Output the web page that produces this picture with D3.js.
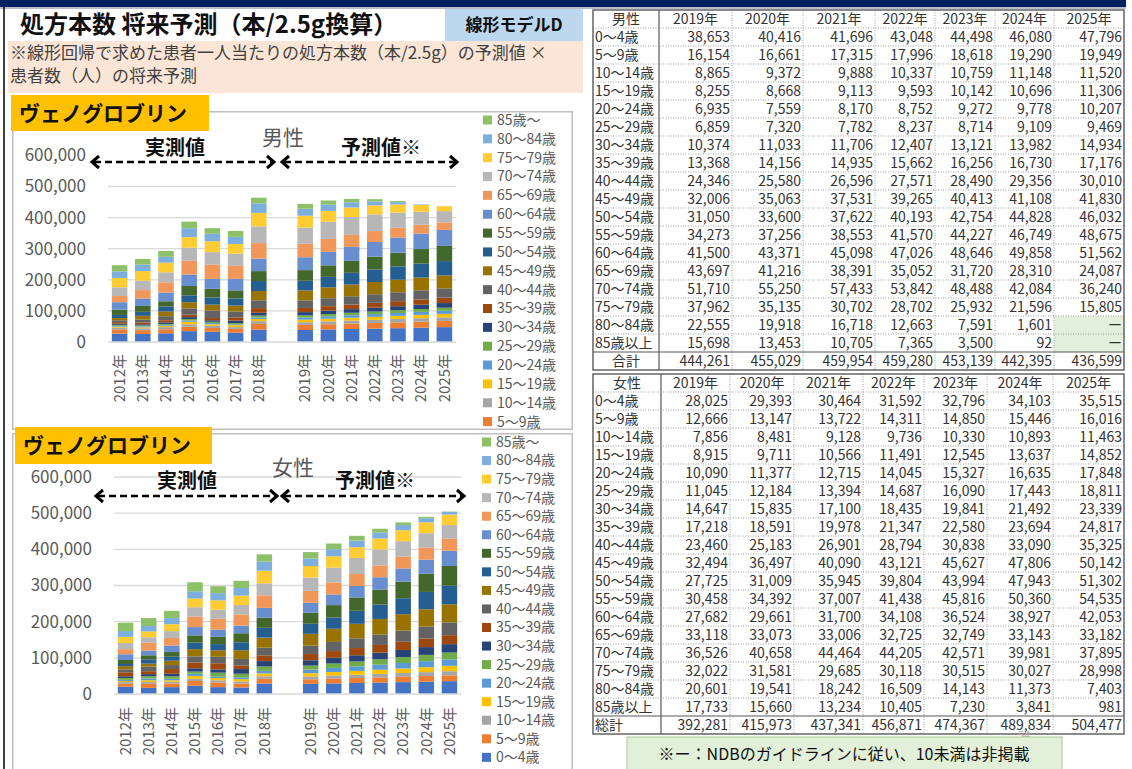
<!DOCTYPE html>
<html lang="ja">
<head>
<meta charset="utf-8">
<title>処方本数 将来予測（本/2.5g換算）</title>
<script src="https://d3js.org/d3.v7.min.js"></script>
<style>
  body { margin: 0; background: #fff; }
  svg { font-family: "Noto Sans CJK JP", "Noto Sans", sans-serif; }
</style>
</head>
<body>
<svg id="chart" width="1132" height="769"></svg>
<script>

// ---- data ----
var ageGroups = ["0〜4歳","5〜9歳","10〜14歳","15〜19歳","20〜24歳","25〜29歳","30〜34歳","35〜39歳","40〜44歳",
  "45〜49歳","50〜54歳","55〜59歳","60〜64歳","65〜69歳","70〜74歳","75〜79歳","80〜84歳","85歳〜"];
var tableLabels = ["0〜4歳","5〜9歳","10〜14歳","15〜19歳","20〜24歳","25〜29歳","30〜34歳","35〜39歳","40〜44歳",
  "45〜49歳","50〜54歳","55〜59歳","60〜64歳","65〜69歳","70〜74歳","75〜79歳","80〜84歳","85歳以上"];
var ageColors = ["#4472C4","#ED7D31","#A5A5A5","#FFC000","#5B9BD5","#70AD47","#264478","#9E480E","#636363",
  "#997300","#255E91","#43682B","#698ED0","#F1975A","#B7B7B7","#FFCD33","#7CAFDD","#8CC168"];

var actualYears = ["2012年","2013年","2014年","2015年","2016年","2017年","2018年"];
var forecastYears = ["2019年","2020年","2021年","2022年","2023年","2024年","2025年"];

var maleActual = [
  [27000,13000,6000,3000,3000,3000,4000,5000,6000,7000,10000,17000,24000,20000,28000,30000,21000,20000],
  [26000,12000,6000,3000,3000,3000,4000,6000,9000,12000,13000,19000,24000,27000,30000,31000,21000,18000],
  [28000,13000,7000,4000,3000,3000,5000,7000,13000,15000,16000,17000,28000,33000,32000,31000,19000,19000],
  [35000,14000,8000,8000,4000,5000,6000,8000,20000,20000,22000,30000,37000,44000,42000,34000,29000,21000],
  [33000,12000,7000,5000,4000,4000,5000,7000,24000,19000,23000,28000,32000,46000,40000,35000,24000,18000],
  [30000,12000,6000,6000,3000,4000,8000,10000,19000,19000,23000,26000,37000,42000,39000,31000,23000,19000],
  [40000,18000,9000,7000,5000,6000,9000,15000,25000,30000,32000,32000,40000,50000,54000,43000,31000,18000]
];
var femaleActual = [
  [20000,8000,5000,3000,3000,5000,5000,11000,8000,9000,6000,11000,16000,14000,17000,17000,16000,23000],
  [17000,11000,5000,5000,5000,6000,6000,8000,13000,8000,12000,11000,13000,22000,15000,16000,15000,22000],
  [19000,10000,5000,4000,4000,7000,7000,13000,11000,12000,11000,13000,18000,21000,19000,19000,17000,20000],
  [23000,13000,6000,8000,6000,6000,9000,16000,17000,20000,18000,20000,23000,29000,26000,24000,20000,25000],
  [19000,13000,6000,6000,4000,11000,9000,17000,18000,18000,17000,20000,20000,30000,25000,26000,20000,19000],
  [18000,11000,6000,6000,5000,10000,13000,10000,18000,24000,22000,25000,21000,31000,26000,26000,21000,20000],
  [29000,13000,7000,8000,7000,12000,15000,16000,21000,28000,27000,28000,27000,35000,33000,35000,25000,20000]
];

// forecast tables, one row per age group, columns 2019..2025 (null = not published)
var maleForecast = [
  [38653,40416,41696,43048,44498,46080,47796],
  [16154,16661,17315,17996,18618,19290,19949],
  [8865,9372,9888,10337,10759,11148,11520],
  [8255,8668,9113,9593,10142,10696,11306],
  [6935,7559,8170,8752,9272,9778,10207],
  [6859,7320,7782,8237,8714,9109,9469],
  [10374,11033,11706,12407,13121,13982,14934],
  [13368,14156,14935,15662,16256,16730,17176],
  [24346,25580,26596,27571,28490,29356,30010],
  [32006,35063,37531,39265,40413,41108,41830],
  [31050,33600,37622,40193,42754,44828,46032],
  [34273,37256,38553,41570,44227,46749,48675],
  [41500,43371,45098,47026,48646,49858,51562],
  [43697,41216,38391,35052,31720,28310,24087],
  [51710,55250,57433,53842,48488,42084,36240],
  [37962,35135,30702,28702,25932,21596,15805],
  [22555,19918,16718,12663,7591,1601,null],
  [15698,13453,10705,7365,3500,92,null]
];
var maleTotals = [444261,455029,459954,459280,453139,442395,436599];

var femaleForecast = [
  [28025,29393,30464,31592,32796,34103,35515],
  [12666,13147,13722,14311,14850,15446,16016],
  [7856,8481,9128,9736,10330,10893,11463],
  [8915,9711,10566,11491,12545,13637,14852],
  [10090,11377,12715,14045,15327,16635,17848],
  [11045,12184,13394,14687,16090,17443,18811],
  [14647,15835,17100,18435,19841,21492,23339],
  [17218,18591,19978,21347,22580,23694,24817],
  [23460,25183,26901,28794,30838,33090,35325],
  [32494,36497,40090,43121,45627,47806,50142],
  [27725,31009,35945,39804,43994,47943,51302],
  [30458,34392,37007,41438,45816,50360,54535],
  [27682,29661,31700,34108,36524,38927,42053],
  [33118,33073,33006,32725,32749,33143,33182],
  [36526,40658,44464,44205,42571,39981,37895],
  [32022,31581,29685,30118,30515,30027,28998],
  [20601,19541,18242,16509,14143,11373,7403],
  [17733,15660,13234,10405,7230,3841,981]
];
var femaleTotals = [392281,415973,437341,456871,474367,489834,504477];

var yTicks = [0,100000,200000,300000,400000,500000,600000];

// ---- page ----
var svg = d3.select("#chart");
var fmt = d3.format(",");

// navy band and left border
svg.append("rect").attr("x",0).attr("y",7).attr("width",1126).attr("height",2).attr("fill","#b8bcc8");
svg.append("rect").attr("x",0).attr("y",0).attr("width",1126).attr("height",7).attr("fill","#002060");
svg.append("line").attr("x1",4).attr("x2",4).attr("y1",7).attr("y2",769)
  .attr("stroke","#000").attr("stroke-width",1.5);

// title
svg.append("text").attr("x",20).attr("y",33)
  .style("font-size","24px").style("font-weight","bold").attr("fill","#111")
  .text("処方本数 将来予測（本/2.5g換算）");

svg.append("rect").attr("x",445).attr("y",9).attr("width",138).attr("height",32).attr("fill","#BDD7EE");
svg.append("text").attr("x",514).attr("y",31).attr("text-anchor","middle")
  .style("font-size","17px").style("font-weight","bold").attr("fill","#111")
  .text("線形モデルD");

svg.append("rect").attr("x",8).attr("y",41).attr("width",575).attr("height",52).attr("fill","#FBE5D6");
svg.append("text").attr("x",10).attr("y",59).style("font-size","17px").attr("fill","#404040")
  .text("※線形回帰で求めた患者一人当たりの処方本数（本/2.5g）の予測値 ×");
svg.append("text").attr("x",10).attr("y",82).style("font-size","17px").attr("fill","#404040")
  .text("患者数（人）の将来予測");

// ---- charts ----
function drawArrow(g, xa, xb, y) {
  g.append("line").attr("x1",xa+3).attr("x2",xb-3).attr("y1",y).attr("y2",y)
    .attr("stroke","#000").attr("stroke-width",2.5).attr("stroke-dasharray","7,4");
  g.append("polyline").attr("points",[[xa+8,y-6],[xa+1,y],[xa+8,y+6]].join(" "))
    .attr("fill","none").attr("stroke","#000").attr("stroke-width",3);
  g.append("polyline").attr("points",[[xb-8,y-6],[xb-1,y],[xb-8,y+6]].join(" "))
    .attr("fill","none").attr("stroke","#000").attr("stroke-width",3);
}

function drawChart(o) {
  var clipId = "clip" + o.id;
  svg.append("clipPath").attr("id",clipId).append("rect")
    .attr("x",o.frame[0]).attr("y",o.frame[1]).attr("width",o.frame[2]).attr("height",o.frame[3]);
  var g = svg.append("g").attr("clip-path","url(#" + clipId + ")");

  g.append("rect").attr("x",o.frame[0]).attr("y",o.frame[1]).attr("width",o.frame[2]).attr("height",o.frame[3])
    .attr("fill","#fff").attr("stroke","#BFBFBF").attr("stroke-width",3);

  var cats = actualYears.concat([""]).concat(forecastYears);
  var x = d3.scaleBand().domain(cats).range(o.xRange).paddingInner(0.33).paddingOuter(0.165);
  var y = d3.scaleLinear().domain([0,600000]).range(o.yRange);

  // gridlines
  g.append("g").selectAll("line")
    .data(yTicks.filter(function(t){ return t > 0 && (t < 600000 || o.topGrid); }))
    .join("line")
    .attr("x1",o.xRange[0]).attr("x2",o.xRange[1])
    .attr("y1",function(d){ return y(d); }).attr("y2",function(d){ return y(d); })
    .attr("stroke","#D9D9D9").attr("stroke-width",1.3);

  // rows for stacking
  var rows = actualYears.map(function(yr,i){ return {year: yr, v: o.actual[i]}; });
  rows.push({year: "", v: ageGroups.map(function(){ return 0; })});
  forecastYears.forEach(function(yr,j){
    rows.push({year: yr, v: o.forecast.map(function(r){ return r[j] || 0; })});
  });

  var series = d3.stack().keys(d3.range(ageGroups.length))
    .value(function(d,k){ return d.v[k]; })(rows);

  g.append("g").selectAll("g").data(series).join("g")
    .attr("fill",function(d,i){ return ageColors[i]; })
    .selectAll("rect").data(function(d){ return d.filter(function(p){ return p.data.year !== ""; }); })
    .join("rect")
    .attr("x",function(d){ return x(d.data.year); })
    .attr("y",function(d){ return y(d[1]); })
    .attr("height",function(d){ return y(d[0]) - y(d[1]); })
    .attr("width",x.bandwidth());

  // axis line
  g.append("line").attr("x1",o.xRange[0]).attr("x2",o.xRange[1])
    .attr("y1",y(0)).attr("y2",y(0)).attr("stroke","#D9D9D9").attr("stroke-width",1.3);

  // y axis labels
  var ya = g.append("g").attr("transform","translate(" + o.xRange[0] + ",0)")
    .call(d3.axisLeft(y).tickValues(yTicks).tickFormat(fmt).tickSize(0).tickPadding(o.xRange[0] - o.yLabelX));
  ya.select(".domain").remove();
  ya.selectAll("text").style("font-size","17px").style("font-family","\"Noto Sans CJK JP\", sans-serif").attr("fill","#595959");

  // x axis labels, rotated
  var xa = g.append("g").attr("transform","translate(0," + y(0) + ")")
    .call(d3.axisBottom(x).tickValues(actualYears.concat(forecastYears)).tickSize(0));
  xa.select(".domain").remove();
  xa.selectAll("text")
    .attr("transform","rotate(-90)").attr("x",-o.xLabelPad).attr("y",0).attr("dy","0.35em")
    .style("text-anchor","end").style("font-size","15px")
    .style("font-family","\"Noto Sans CJK JP\", sans-serif").attr("fill","#595959");

  // chart title
  g.append("text").attr("x",o.titleX).attr("y",o.titleY).attr("text-anchor","middle")
    .style("font-size","21px").attr("fill","#595959").text(o.sex);

  // arrows and their captions
  drawArrow(g, o.arrow1[0], o.arrow1[1], o.arrowY);
  drawArrow(g, o.arrow2[0], o.arrow2[1], o.arrowY);
  g.append("text").attr("x",o.cap1X).attr("y",o.capY).attr("text-anchor","middle")
    .style("font-size","20px").style("font-weight","bold").attr("fill","#111").text("実測値");
  g.append("text").attr("x",o.cap2X).attr("y",o.capY).attr("text-anchor","middle")
    .style("font-size","20px").style("font-weight","bold").attr("fill","#111").text("予測値※");

  // legend, highest age group first; entries past the frame bottom are not shown
  var frameBottom = o.frame[1] + o.frame[3];
  var legItems = d3.range(ageGroups.length).reverse()
    .filter(function(d,i){ return o.legY + i*o.legStep + 6 < frameBottom; });
  var leg = g.append("g").selectAll("g").data(legItems).join("g")
    .attr("transform",function(d,i){ return "translate(" + o.legX + "," + (o.legY + i*o.legStep) + ")"; });
  leg.append("rect").attr("x",0).attr("y",-4.5).attr("width",9).attr("height",9)
    .attr("fill",function(d){ return ageColors[d]; });
  leg.append("text").attr("x",14).attr("y",0).attr("dy","0.35em")
    .style("font-size","14px").attr("fill","#595959")
    .text(function(d){ return ageGroups[d]; });

  // yellow drug label
  svg.append("rect").attr("x",o.tag[0]).attr("y",o.tag[1]).attr("width",o.tag[2]).attr("height",o.tag[3])
    .attr("fill","#FFC000");
  svg.append("text").attr("x",o.tag[0] + 8).attr("y",o.tag[1] + o.tag[3]/2).attr("dy","0.36em")
    .style("font-size","21px").style("font-weight","bold").attr("fill","#111")
    .text("ヴェノグロブリン");
}

drawChart({
  id: "m", sex: "男性", actual: maleActual, forecast: maleForecast,
  frame: [12,111,561,319], xRange: [108,456], yRange: [342,155.4], yLabelX: 86, xLabelPad: 12,
  topGrid: false, titleX: 283, titleY: 145,
  arrowY: 162, arrow1: [91,275], arrow2: [281,458], cap1X: 175, cap2X: 381, capY: 155,
  legX: 483, legY: 120, legStep: 18.85, tag: [11,95,198,36]
});

drawChart({
  id: "f", sex: "女性", actual: femaleActual, forecast: femaleForecast,
  frame: [12,433,561,340], xRange: [114,461], yRange: [694,477], yLabelX: 92, xLabelPad: 13,
  topGrid: true, titleX: 293, titleY: 475,
  arrowY: 496, arrow1: [95,278], arrow2: [281,465], cap1X: 187, cap2X: 375, capY: 488,
  legX: 482, legY: 442, legStep: 18.55, tag: [15,427,197,37]
});

// ---- tables ----
function drawTable(o) {
  var g = svg.append("g");
  var rowH = 18;
  var nRows = 20;
  var c = o.cols;
  var left = c[0], right = c[c.length - 1];
  var bottom = o.top + rowH * nRows;

  // greyed cells for unpublished values
  o.data.forEach(function(r,i){
    r.forEach(function(v,j){
      if (v === null) {
        g.append("rect").attr("x",c[j+1]).attr("y",o.top + rowH*(i+1))
          .attr("width",c[j+2] - c[j+1]).attr("height",rowH).attr("fill","#E2EFDA");
      }
    });
  });

  // dotted row lines
  g.append("g").selectAll("line").data(d3.range(1, nRows - 1)).join("line")
    .attr("x1",left).attr("x2",right)
    .attr("y1",function(d){ return o.top + d*rowH; }).attr("y2",function(d){ return o.top + d*rowH; })
    .attr("stroke","#8c8c8c").attr("stroke-width",0.8).attr("stroke-dasharray","1,1.5");
  // dotted column lines
  g.append("g").selectAll("line").data(c.slice(2, c.length - 1)).join("line")
    .attr("x1",function(d){ return d; }).attr("x2",function(d){ return d; })
    .attr("y1",o.top).attr("y2",bottom)
    .attr("stroke","#8c8c8c").attr("stroke-width",0.8).attr("stroke-dasharray","1,1.5");
  // solid lines
  g.append("line").attr("x1",c[1]).attr("x2",c[1]).attr("y1",o.top).attr("y2",bottom)
    .attr("stroke","#595959").attr("stroke-width",1.2);
  g.append("line").attr("x1",left).attr("x2",right)
    .attr("y1",bottom - rowH).attr("y2",bottom - rowH)
    .attr("stroke","#595959").attr("stroke-width",1.2);
  g.append("rect").attr("x",left).attr("y",o.top).attr("width",right - left).attr("height",bottom - o.top)
    .attr("fill","none").attr("stroke","#595959").attr("stroke-width",1.4);

  var txt = function(x, row, s, anchor) {
    g.append("text").attr("x",x).attr("y",o.top + rowH*row + rowH/2).attr("dy","0.36em")
      .attr("text-anchor",anchor).style("font-size","14px").attr("fill","#333").text(s);
  };

  // header
  txt((c[0] + c[1]) / 2, 0, o.sex, "middle");
  forecastYears.forEach(function(yr,j){ txt((c[j+1] + c[j+2]) / 2, 0, yr, "middle"); });

  // body
  o.data.forEach(function(r,i){
    txt(left + 2, i + 1, tableLabels[i], "start");
    r.forEach(function(v,j){
      txt(c[j+2] - 2, i + 1, v === null ? "ー" : fmt(v), "end");
    });
  });

  // totals
  if (o.totalAlign === "middle") txt((c[0] + c[1]) / 2, nRows - 1, o.totalLabel, "middle");
  else txt(left + 2, nRows - 1, o.totalLabel, "start");
  o.totals.forEach(function(v,j){ txt(c[j+2] - 2, nRows - 1, fmt(v), "end"); });
}

drawTable({
  sex: "男性", top: 10, data: maleForecast, totals: maleTotals,
  totalLabel: "合計", totalAlign: "middle",
  cols: [593,659,732,803,875,935,995,1054,1124]
});

drawTable({
  sex: "女性", top: 374, data: femaleForecast, totals: femaleTotals,
  totalLabel: "総計", totalAlign: "start",
  cols: [593,661,730,794,863,924,987,1053,1124]
});

// faint slide number
svg.append("text").attr("x",1024).attr("y",739).attr("text-anchor","middle")
  .style("font-size","11px").attr("fill","#b0b0b0").text("54");

// footnote box
svg.append("rect").attr("x",627).attr("y",737).attr("width",435).attr("height",38)
  .attr("fill","#E2F0D9").attr("stroke","#A9C99A").attr("stroke-width",1);
svg.append("text").attr("x",844).attr("y",754).attr("dy","0.36em").attr("text-anchor","middle")
  .style("font-size","16px").attr("fill","#111")
  .text("※ー：NDBのガイドラインに従い、10未満は非掲載");

</script>
</body>
</html>
